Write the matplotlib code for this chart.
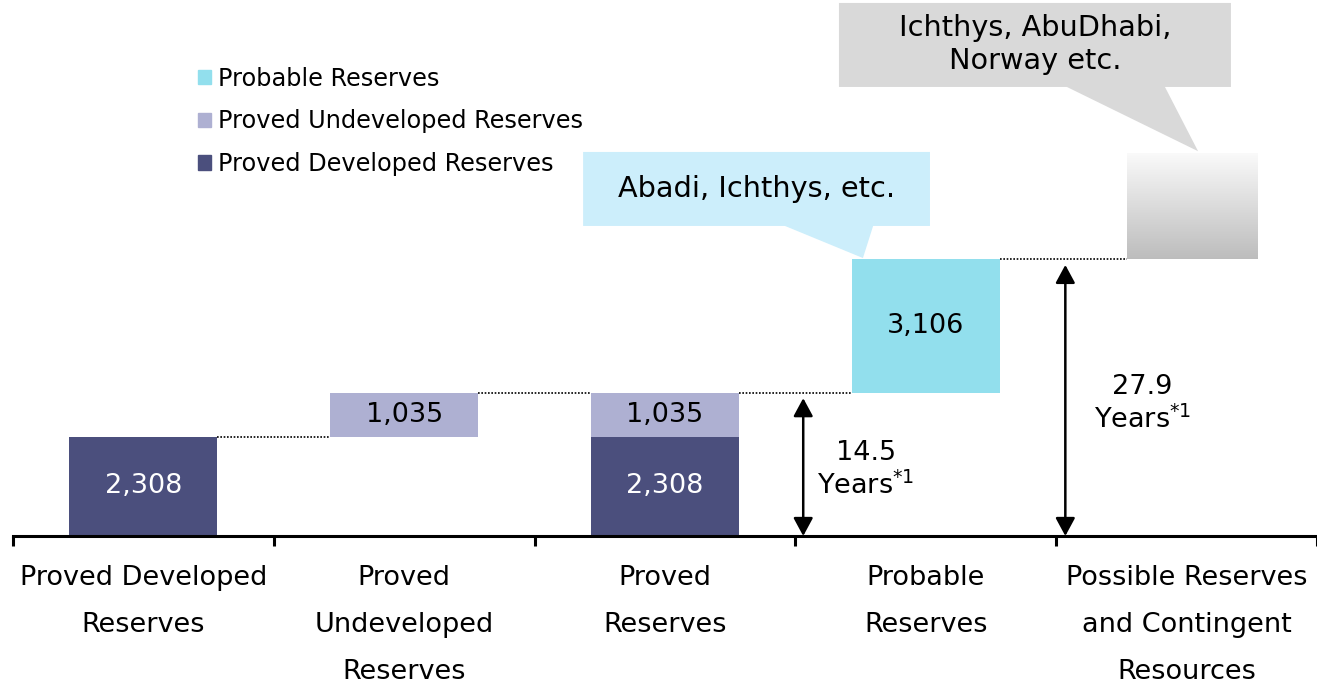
import numpy as np
import matplotlib.pyplot as plt
from matplotlib.patches import Polygon, Rectangle

plt.rcParams['font.family'] = ['DejaVu Sans']
plt.rcParams['mathtext.fontset'] = 'dejavusans'

categories = ['Proved Developed\nReserves', 'Proved\nUndeveloped\nReserves',
              'Proved\nReserves', 'Probable\nReserves',
              'Possible Reserves\nand Contingent\nResources']
developed = [2308, 0, 2308, 0]
undeveloped = [0, 1035, 1035, 0]
probable = [0, 0, 0, 3106]
possible_height = 2470  # no figure given, drawn as a shaded block
years_proved = '14.5'
years_total = '27.9'
callout_probable = 'Abadi, Ichthys, etc.'
callout_possible = 'Ichthys, AbuDhabi,\nNorway etc.'

c_dev = '#4B4F7D'
c_undev = '#AEB0D2'
c_prob = '#92DFED'
c_call1 = '#CCEEFB'
c_call2 = '#D9D9D9'

fig = plt.figure(figsize=(13.17, 6.87), dpi=100)
ax = fig.add_axes([13 / 1317, 151 / 687, 1 - 13 / 1317, 536 / 687])

x = np.arange(4) + 0.5
w = 0.567
dev = np.array(developed)
undev = np.array(undeveloped)
prob = np.array(probable)
bottom_undev = np.where(np.arange(4) == 1, dev[0], dev)
bottom_prob = np.array([0, 0, 0, dev[2] + undev[2]])

ax.bar(x, dev, w, color=c_dev, label='Proved Developed Reserves')
ax.bar(x, undev, w, bottom=bottom_undev, color=c_undev, label='Proved Undeveloped Reserves')
ax.bar(x, prob, w, bottom=bottom_prob, color=c_prob, label='Probable Reserves')

total = dev[2] + undev[2] + prob[3]

# gradient block for possible reserves (white on top, grey at the bottom)
gx0, gx1 = 4.27, 4.77
grad = np.linspace(0.98, 0.74, 256).reshape(-1, 1)
ax.imshow(np.dstack([grad, grad, grad]), extent=[gx0, gx1, total, total + possible_height],
          aspect='auto', zorder=1)

# value labels
fs = 19.5
for i in range(4):
    if dev[i]:
        ax.text(x[i], dev[i] / 2, f'{dev[i]:,}', ha='center', va='center', color='white', fontsize=fs)
    if undev[i]:
        ax.text(x[i], bottom_undev[i] + undev[i] / 2, f'{undev[i]:,}', ha='center', va='center',
                color='black', fontsize=fs)
    if prob[i]:
        ax.text(x[i], bottom_prob[i] + prob[i] / 2, f'{prob[i]:,}', ha='center', va='center',
                color='black', fontsize=fs)

# dotted connectors
dot = dict(color='black', linestyle=(0, (1, 1)), linewidth=1.2)
ax.plot([x[0] + w / 2, x[1] - w / 2], [dev[0]] * 2, **dot)
ax.plot([x[1] + w / 2, x[2] - w / 2], [dev[0] + undev[1]] * 2, **dot)
ax.plot([x[2] + w / 2, x[3] - w / 2], [dev[2] + undev[2]] * 2, **dot)
ax.plot([x[3] + w / 2, gx0], [total] * 2, **dot)

# arrows
arr = dict(arrowstyle='<|-|>,head_length=0.5,head_width=0.27', color='black', lw=1.8,
           mutation_scale=22, shrinkA=0, shrinkB=0)
ax.annotate('', xy=(3.03, dev[2] + undev[2] - 130), xytext=(3.03, 0), arrowprops=arr)
ax.annotate('', xy=(4.035, total - 130), xytext=(4.035, 0), arrowprops=arr)
ax.text(3.27, 1540, years_proved + '\nYears$^{*1}$', ha='center', va='center',
        fontsize=fs, linespacing=1.25)
ax.text(4.33, 3080, years_total + '\nYears$^{*1}$', ha='center', va='center',
        fontsize=fs, linespacing=1.25)

# callouts
cfs = 20.7
ax.add_patch(Polygon([(2.186, 7227), (2.186, 8952), (3.516, 8952), (3.516, 7227),
                      (3.298, 7227), (3.259, total + 30), (2.960, 7227)],
                     closed=True, facecolor=c_call1, edgecolor='none', zorder=2))
ax.text(2.851, 8090, callout_probable, ha='center', va='center', fontsize=cfs, zorder=3)
ax.add_patch(Polygon([(3.167, 10467), (3.167, 12425), (4.670, 12425), (4.670, 10467),
                      (4.417, 10467), (4.544, total + possible_height + 50), (4.041, 10467)],
                     closed=True, facecolor=c_call2, edgecolor='none', zorder=2))
ax.text(3.918, 11460, callout_possible, ha='center', va='center', fontsize=cfs,
        linespacing=1.2, zorder=3)

ax.set_xlim(0, 5)
ax.set_ylim(0, 12494)
for s in ['top', 'left', 'right']:
    ax.spines[s].set_visible(False)
ax.spines['bottom'].set_linewidth(2.2)
ax.set_yticks([])
ax.set_xticks(np.arange(6))
ax.set_xticklabels([])
ax.tick_params(axis='x', which='major', direction='out', length=7, width=2.2)
ax.set_xticks(np.arange(5) + 0.5, minor=True)
ax.set_xticklabels(categories, minor=True, fontsize=19.5, linespacing=2.04)
ax.tick_params(axis='x', which='minor', length=0, pad=21)
for lbl in ax.get_xticklabels(minor=True):
    lbl.set_verticalalignment('top')

handles = [Rectangle((0, 0), 1, 1, color=c_prob), Rectangle((0, 0), 1, 1, color=c_undev),
           Rectangle((0, 0), 1, 1, color=c_dev)]
labels = ['Probable Reserves', 'Proved Undeveloped Reserves', 'Proved Developed Reserves']
fig.legend(handles, labels, loc='upper left', bbox_to_anchor=(176 / 1317, 1 - 45 / 687),
           frameon=False, fontsize=17.3, handlelength=0.55, handleheight=0.55,
           handletextpad=0.3, labelspacing=0.78)

fig.savefig('out.png', dpi=100)
